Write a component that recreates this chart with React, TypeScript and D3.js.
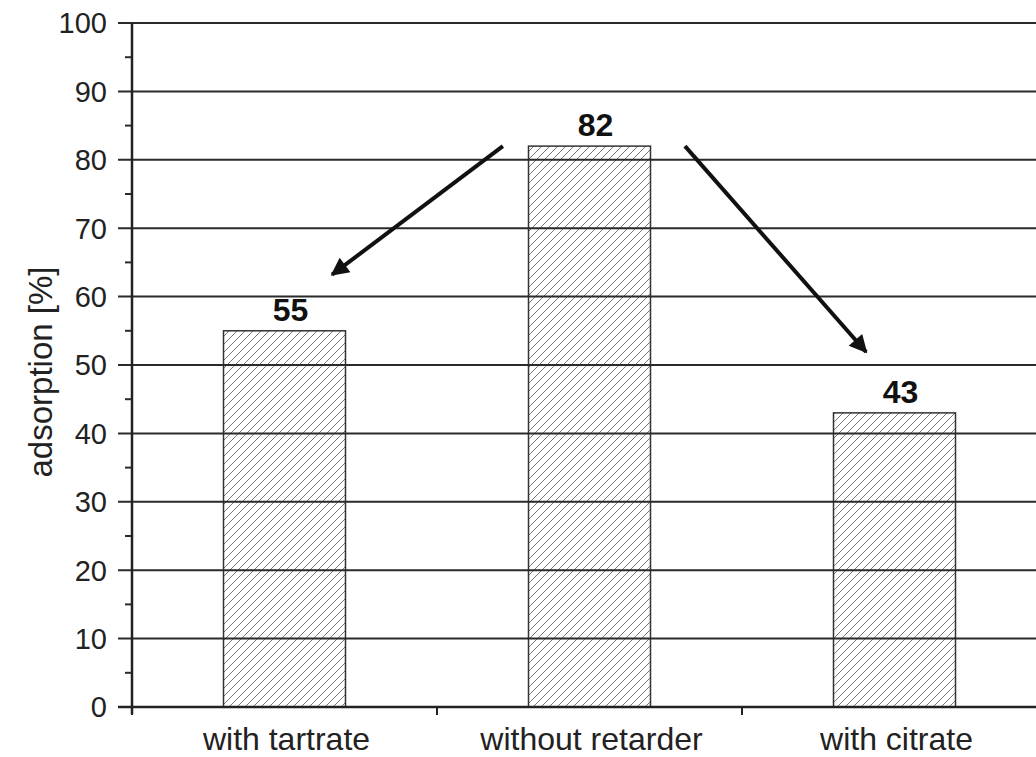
import React from "react";
import * as d3 from "d3";

const categories = ["with tartrate", "without retarder", "with citrate"];
const values = [55, 82, 43];
const yTicks = [0, 10, 20, 30, 40, 50, 60, 70, 80, 90, 100];
const yMinorTicks = [5, 15, 25, 35, 45, 55, 65, 75, 85, 95];
// arrows in (category-axis units, value units)
const arrows = [
  { x1: 1.216, y1: 82, x2: 0.656, y2: 63.2 },
  { x1: 1.813, y1: 82, x2: 2.407, y2: 51.9 },
];

const W = 1036;
const H = 757;
const left = 132;
const bottom = 707;
const top = 23;
const band = 305;

export default function App() {
  const y = d3.scaleLinear().domain([0, 100]).range([bottom, top]);
  const xu = d3.scaleLinear().domain([0, 3]).range([left, left + band * 3]);
  const x = d3.scaleBand<string>().domain(categories).range([left, left + band * 3]).paddingInner(0.6).paddingOuter(0.3);
  const font = "'Liberation Sans', Arial, sans-serif";
  return (
    <svg width={W} height={H} style={{ position: "absolute", left: 0, top: 0, background: "#fff" }}>
      <defs>
        <pattern id="hatch" patternUnits="userSpaceOnUse" width={8} height={8}>
          <path d="M-2,10 L10,-2 M-2,2 L2,-2 M6,10 L10,6" stroke="#777" strokeWidth={1} />
        </pattern>
        <marker id="ah" viewBox="0 0 10 10" refX={9} refY={5} markerWidth={6} markerHeight={4.5} orient="auto" markerUnits="strokeWidth">
          <path d="M0,0 L10,5 L0,10 z" fill="#111" />
        </marker>
      </defs>
      {yMinorTicks.map((t) => (
        <line key={"m" + t} x1={125} x2={left} y1={y(t)} y2={y(t)} stroke="#2a2a2a" strokeWidth={2} />
      ))}
      {/* bars */}
      {categories.map((c, i) => (
        <rect key={c} x={x(c)} y={y(values[i])} width={x.bandwidth()} height={y(0) - y(values[i])}
          fill="url(#hatch)" stroke="#333" strokeWidth={1.5} />
      ))}
      {/* grid lines */}
      {yTicks.map((t) => (
        <line key={"g" + t} x1={118} x2={W} y1={y(t)} y2={y(t)} stroke="#2a2a2a" strokeWidth={2} />
      ))}
      {/* axes */}
      <line x1={left} x2={left} y1={top} y2={bottom + 7} stroke="#222" strokeWidth={2.5} />
      <line x1={118} x2={W} y1={bottom} y2={bottom} stroke="#222" strokeWidth={2.5} />
      {[0, 1, 2, 3].map((k) => (
        <line key={"xt" + k} x1={xu(k)} x2={xu(k)} y1={bottom} y2={bottom + 8} stroke="#222" strokeWidth={2} />
      ))}
      {/* y tick labels */}
      {yTicks.map((t) => (
        <text key={"yl" + t} x={107} y={y(t)} dy="0.36em" textAnchor="end" fontFamily={font} fontSize={29} fill="#222">
          {t}
        </text>
      ))}
      <text transform={`translate(52,${y(50) + 7}) rotate(-90)`} textAnchor="middle" fontFamily={font} fontSize={33} fill="#222">
        adsorption [%]
      </text>
      {/* x labels */}
      {categories.map((c) => (
        <text key={"xl" + c} x={(x(c) as number) + x.bandwidth() / 2 + 2} y={750} textAnchor="middle" fontFamily={font} fontSize={32} fill="#222">
          {c}
        </text>
      ))}
      {/* value labels */}
      {categories.map((c, i) => (
        <text key={"vl" + c} x={(x(c) as number) + x.bandwidth() / 2 + 6} y={y(values[i]) - 10} textAnchor="middle" fontFamily={font} fontWeight="bold" fontSize={32} fill="#111">
          {values[i]}
        </text>
      ))}
      {/* arrows */}
      {arrows.map((a, i) => (
        <line key={"ar" + i} x1={xu(a.x1)} y1={y(a.y1)} x2={xu(a.x2)} y2={y(a.y2)} stroke="#111" strokeWidth={4} markerEnd="url(#ah)" />
      ))}
    </svg>
  );
}
